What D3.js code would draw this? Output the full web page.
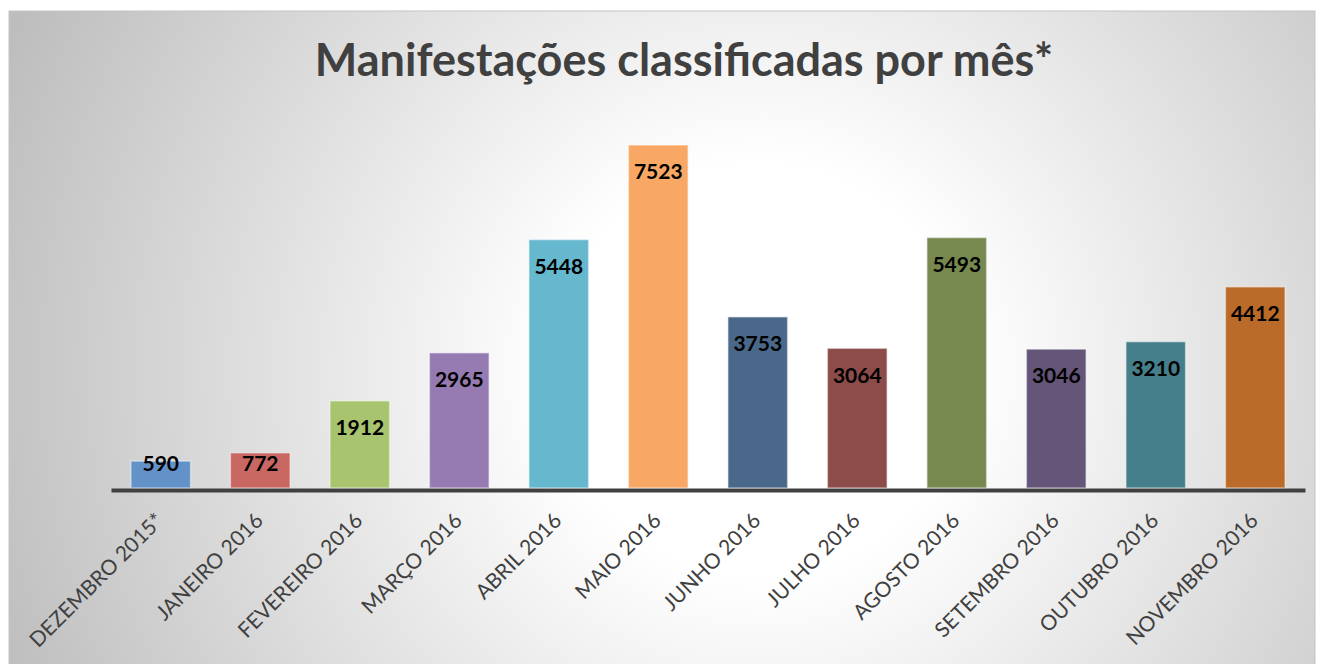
<!DOCTYPE html>
<html>
<head>
<meta charset="utf-8">
<script src="https://cdn.jsdelivr.net/npm/d3@7"></script>
<style>
  body { margin: 0; background: #fff; }
  svg text { font-family: Lato, "Open Sans", sans-serif; }
</style>
</head>
<body>
<div id="chart"></div>
<script>
// data
const months = ["DEZEMBRO 2015*", "JANEIRO 2016", "FEVEREIRO 2016", "MARÇO 2016", "ABRIL 2016", "MAIO 2016",
    "JUNHO 2016", "JULHO 2016", "AGOSTO 2016", "SETEMBRO 2016", "OUTUBRO 2016", "NOVEMBRO 2016"];
const counts = [590, 772, 1912, 2965, 5448, 7523, 3753, 3064, 5493, 3046, 3210, 4412];
const barColors = ["#6392c9", "#c96763", "#a8c46e", "#957bb1", "#65b8ce", "#f8a864",
    "#4a6889", "#8c4c4a", "#77894f", "#655579", "#467f8c", "#ba6b29"];
const title = "Manifestações classificadas por mês*";

const width = 1323, height = 664;
const frame = { x: 9, y: 11, w: 1306, h: 660 };
const margin = { left: 111, right: 18, top: 145, bottom: 176 };

const svg = d3.select("#chart").append("svg")
    .attr("width", width)
    .attr("height", height);

// background gradient
const defs = svg.append("defs");
const grad = defs.append("radialGradient")
    .attr("id", "bg")
    .attr("gradientUnits", "userSpaceOnUse")
    .attr("cx", 760).attr("cy", 370).attr("r", 820);
grad.append("stop").attr("offset", "0").attr("stop-color", "#ffffff");
grad.append("stop").attr("offset", "0.25").attr("stop-color", "#ffffff");
grad.append("stop").attr("offset", "1").attr("stop-color", "#bdbdbd");

svg.append("rect")
    .attr("x", frame.x).attr("y", frame.y)
    .attr("width", frame.w).attr("height", frame.h)
    .attr("fill", "url(#bg)")
    .attr("stroke", "#c4c4c4")
    .attr("stroke-width", 1);

// title, sized to the reference width
const titleText = svg.append("text")
    .attr("x", 684)
    .attr("y", 76)
    .attr("text-anchor", "middle")
    .attr("font-family", "'Open Sans', sans-serif")
    .attr("font-size", "40px")
    .attr("font-weight", "bold")
    .attr("fill", "#404040")
    .text(title);
const tw = titleText.node().getComputedTextLength();
titleText.attr("font-size", (40 * 738 / tw).toFixed(1) + "px");

const baseY = height - margin.bottom;

const x = d3.scaleBand()
    .domain(months)
    .range([margin.left, width - margin.right])
    .paddingInner(0.4)
    .paddingOuter(0.2);

const y = d3.scaleLinear()
    .domain([0, d3.max(counts)])
    .range([baseY, margin.top]);

const data = months.map((m, i) => ({ month: m, value: counts[i], color: barColors[i] }));

// bars
svg.selectAll(".bar")
    .data(data)
    .enter().append("rect")
    .attr("class", "bar")
    .attr("x", d => x(d.month))
    .attr("y", d => y(d.value))
    .attr("width", x.bandwidth())
    .attr("height", d => baseY - y(d.value))
    .attr("fill", d => d.color)
    .attr("stroke", "#ffffff")
    .attr("stroke-opacity", 0.45)
    .attr("stroke-width", 1.5);

// value labels
svg.selectAll(".val")
    .data(data)
    .enter().append("text")
    .attr("class", "val")
    .attr("x", d => x(d.month) + x.bandwidth() / 2)
    .attr("y", d => Math.min(y(d.value) + 27, baseY - 24))
    .attr("dy", "0.35em")
    .attr("text-anchor", "middle")
    .attr("font-size", "21px")
    .attr("font-weight", "bold")
    .attr("fill", "#000")
    .text(d => d.value);

// axis
const xAxis = svg.append("g")
    .attr("transform", `translate(0, ${baseY + 2})`)
    .call(d3.axisBottom(x).tickSize(0).tickPadding(0));

xAxis.select(".domain")
    .attr("stroke", "#404040")
    .attr("stroke-width", 4);

xAxis.selectAll(".tick text")
    .attr("text-anchor", "end")
    .attr("font-size", "21px")
    .attr("fill", "#404040")
    .attr("font-family", "Lato, sans-serif")
    .attr("dy", 0)
    .attr("y", 0)
    .attr("transform", "translate(4, 32) rotate(-45)");
</script>
</body>
</html>
